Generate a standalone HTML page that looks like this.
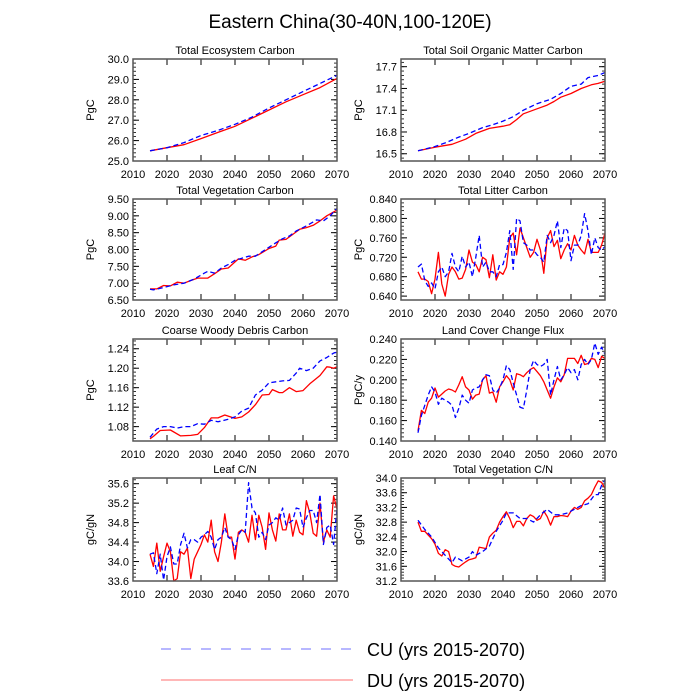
<!DOCTYPE html>
<html><head><meta charset="utf-8"><style>
html,body{margin:0;padding:0;background:#fff;}
svg{display:block;font-family:"Liberation Sans",sans-serif;}
</style></head><body>
<svg id="chart" width="700" height="700" viewBox="0 0 700 700">
<text x="350" y="28" text-anchor="middle" font-size="19">Eastern China(30-40N,100-120E)</text>
<g id="panels"></g>
<g>
<line x1="161" y1="649" x2="353" y2="649" stroke="#6f6fff" stroke-width="1" stroke-dasharray="10,10"/>
<text x="367" y="656" font-size="18">CU (yrs 2015-2070)</text>
<line x1="161" y1="680" x2="353" y2="680" stroke="#ff6f6f" stroke-width="1"/>
<text x="367" y="687" font-size="18">DU (yrs 2015-2070)</text>
</g>
</svg>
<script>
const yearsFull = [];
for (let y = 2015; y <= 2070; y++) yearsFull.push(y);
const xTicks = [2010, 2020, 2030, 2040, 2050, 2060, 2070];

// Panel 1: Total Ecosystem Carbon
const ecoYears = [2015,2020,2025,2030,2035,2040,2045,2050,2055,2060,2065,2070];
const ecoDU = [25.5,25.65,25.8,26.1,26.4,26.7,27.1,27.5,27.9,28.25,28.6,29.05];
const ecoCU = [25.5,25.65,25.9,26.25,26.5,26.8,27.15,27.6,28.0,28.4,28.8,29.2];
const ecoTicks = ["25.0","26.0","27.0","28.0","29.0","30.0"];

// Panel 2: Soil
const soilYearsDU = [2015,2020,2025,2029,2032,2036,2040,2042,2044,2046,2050,2053,2055,2057,2060,2063,2066,2068,2070];
const soilDU = [16.54,16.59,16.63,16.7,16.78,16.85,16.88,16.9,16.97,17.05,17.12,17.17,17.22,17.28,17.33,17.4,17.45,17.47,17.5];
const soilYearsCU = [2015,2020,2023,2027,2030,2034,2037,2040,2043,2046,2050,2054,2057,2060,2063,2065,2068,2070];
const soilCU = [16.54,16.6,16.65,16.73,16.78,16.86,16.9,16.95,17.01,17.1,17.19,17.25,17.33,17.43,17.46,17.55,17.58,17.62];
const soilTicks = ["16.5","16.8","17.1","17.4","17.7"];

// Panel 3: Vegetation Carbon
const vegYearsDU = [2015,2017,2019,2021,2023,2025,2027,2029,2032,2034,2036,2038,2041,2043,2045,2047,2050,2052,2053,2055,2057,2059,2061,2063,2065,2067,2070];
const vegDU = [6.83,6.83,6.93,6.92,7.03,7.0,7.08,7.15,7.15,7.28,7.42,7.45,7.72,7.68,7.78,7.85,8.03,8.1,8.28,8.3,8.45,8.6,8.65,8.72,8.85,9.0,9.17];
const vegYearsCU = [2015,2016,2019,2022,2025,2028,2031,2032,2034,2036,2038,2040,2044,2046,2049,2052,2054,2056,2058,2061,2064,2066,2068,2070];
const vegCU = [6.82,6.8,6.87,6.95,7.0,7.12,7.3,7.35,7.3,7.45,7.55,7.68,7.8,7.8,8.0,8.2,8.32,8.4,8.55,8.7,8.88,8.85,9.0,9.22];
const vegTicks = ["6.50","7.00","7.50","8.00","8.50","9.00","9.50"];

// Panel 4: Litter
const litterDU = [.69,.675,.675,.67,.645,.675,.73,.665,.64,.685,.7,.69,.675,.677,.695,.735,.71,.705,.69,.72,.715,.678,.725,.673,.69,.685,.7,.76,.77,.725,.78,.76,.74,.72,.73,.757,.735,.687,.76,.775,.742,.755,.717,.735,.748,.735,.765,.745,.735,.727,.757,.73,.73,.73,.745,.77];
const litterCU = [.70,.706,.672,.66,.667,.655,.69,.70,.68,.69,.728,.70,.69,.722,.70,.71,.68,.72,.765,.70,.71,.69,.69,.68,.705,.705,.73,.775,.695,.80,.795,.75,.745,.735,.735,.725,.72,.71,.765,.75,.765,.795,.74,.78,.775,.713,.745,.745,.765,.81,.775,.725,.76,.74,.735,.742];
const litterTicks = ["0.640","0.680","0.720","0.760","0.800","0.840"];

// Panel 5: CWD
const cwdYearsDU = [2015,2016,2018,2021,2024,2027,2029,2031,2033,2035,2037,2040,2042,2044,2046,2048,2050,2051,2053,2054,2056,2058,2060,2062,2065,2067,2068,2069,2070];
const cwdDU = [1.055,1.06,1.072,1.073,1.061,1.062,1.064,1.078,1.098,1.098,1.104,1.097,1.1,1.11,1.125,1.145,1.146,1.156,1.15,1.15,1.16,1.152,1.154,1.168,1.185,1.203,1.202,1.2,1.203];
const cwdYearsCU = [2015,2017,2019,2021,2023,2025,2027,2029,2031,2033,2035,2038,2040,2042,2044,2046,2048,2050,2052,2054,2056,2058,2059,2061,2063,2065,2067,2069,2070];
const cwdCU = [1.058,1.075,1.08,1.08,1.077,1.08,1.08,1.086,1.085,1.093,1.09,1.095,1.1,1.112,1.118,1.145,1.155,1.17,1.172,1.174,1.175,1.19,1.2,1.195,1.2,1.215,1.222,1.231,1.233];
const cwdTicks = ["1.08","1.12","1.16","1.20","1.24"];

// Panel 6: Land cover change flux
const lccDU = [.15,.17,.167,.178,.182,.192,.183,.186,.189,.191,.19,.188,.195,.203,.193,.19,.181,.185,.186,.2,.204,.187,.188,.178,.193,.198,.204,.2,.19,.206,.205,.203,.207,.21,.212,.208,.204,.198,.19,.182,.193,.202,.198,.205,.221,.221,.221,.216,.224,.215,.216,.221,.22,.212,.223,.221];
const lccCU = [.148,.165,.175,.185,.193,.188,.176,.182,.18,.178,.175,.163,.172,.185,.18,.177,.19,.192,.193,.2,.205,.204,.19,.187,.192,.2,.214,.21,.197,.185,.173,.172,.19,.21,.219,.215,.213,.215,.22,.185,.2,.213,.2,.205,.212,.207,.21,.2,.215,.22,.215,.22,.236,.225,.232,.225];
const lccTicks = ["0.140","0.160","0.180","0.200","0.220","0.240"];

// Panel 7: Leaf C/N
const leafDU = [34.15,33.9,34.38,33.8,34.1,34.38,34.2,33.6,33.65,34.2,34.15,34.28,33.65,34.05,34.2,34.35,34.55,34.4,34.85,34.2,34.0,34.4,34.98,34.5,34.5,34.05,34.6,34.65,34.6,34.4,34.95,34.45,34.95,34.7,34.25,35.0,34.65,34.42,34.98,34.65,34.65,34.98,34.52,34.85,34.6,34.55,35.25,35.0,34.58,34.52,35.2,34.4,34.65,34.5,35.35,35.08];
const leafCU = [34.15,34.18,33.75,34.15,33.62,34.1,34.3,33.95,33.95,34.35,34.58,34.28,34.45,34.45,34.4,34.5,34.55,34.62,34.5,34.25,34.45,34.5,34.7,34.5,34.45,34.25,34.55,34.65,34.6,35.62,35.1,35.0,34.5,34.6,34.45,34.75,34.8,34.9,34.85,35.1,34.75,34.8,34.85,35.1,35.08,34.7,34.9,35.05,35.05,34.8,35.38,34.35,34.7,34.75,34.35,35.1];
const leafTicks = ["33.6","34.0","34.4","34.8","35.2","35.6"];

// Panel 8: Vegetation C/N
const vcnDU = [32.8,32.55,32.55,32.45,32.35,32.2,31.95,31.88,32.05,32.0,31.65,31.6,31.58,31.65,31.72,31.78,31.8,31.83,32.12,32.1,32.08,32.4,32.5,32.58,32.8,32.95,33.08,32.9,32.65,32.82,32.82,32.7,32.9,33.0,32.95,32.85,32.9,33.1,32.95,32.72,32.95,32.95,32.98,32.97,32.95,33.1,33.2,33.15,33.2,33.38,33.45,33.55,33.75,33.92,33.88,33.72];
const vcnYearsCU = [2015,2017,2019,2021,2023,2025,2026,2028,2030,2031,2032,2034,2036,2038,2040,2041,2043,2045,2047,2049,2051,2053,2055,2057,2059,2061,2063,2065,2067,2068,2069,2070];
const vcnCU = [32.85,32.6,32.4,32.1,31.9,31.7,31.85,31.75,31.85,32.0,31.9,32.0,32.15,32.55,32.85,33.05,33.05,32.9,32.9,32.8,33.0,33.15,33.0,33.0,33.05,33.15,33.25,33.3,33.55,33.55,33.8,33.95];
const vcnTicks = ["31.2","31.6","32.0","32.4","32.8","33.2","33.6","34.0"];

const panels = [
 {name:'total-ecosystem-carbon', title:'Total Ecosystem Carbon', unit:'PgC', L:133, T:59, B:161, ymin:25, ymax:30, ticks:ecoTicks, minor:0.2, du:[ecoYears,ecoDU], cu:[ecoYears,ecoCU]},
 {name:'total-soil-carbon', title:'Total Soil Organic Matter Carbon', unit:'PgC', L:401, T:59, B:161, ymin:16.4, ymax:17.806, ticks:soilTicks, minor:0.06, du:[soilYearsDU,soilDU], cu:[soilYearsCU,soilCU]},
 {name:'total-vegetation-carbon', title:'Total Vegetation Carbon', unit:'PgC', L:133, T:199, B:300, ymin:6.5, ymax:9.5, ticks:vegTicks, minor:0.1, du:[vegYearsDU,vegDU], cu:[vegYearsCU,vegCU]},
 {name:'total-litter-carbon', title:'Total Litter Carbon', unit:'PgC', L:401, T:199, B:300, ymin:0.632, ymax:0.84, ticks:litterTicks, minor:0.008, du:[yearsFull,litterDU], cu:[yearsFull,litterCU]},
 {name:'coarse-woody-debris-carbon', title:'Coarse Woody Debris Carbon', unit:'PgC', L:133, T:339, B:441, ymin:1.0505, ymax:1.26, ticks:cwdTicks, minor:0.008, du:[cwdYearsDU,cwdDU], cu:[cwdYearsCU,cwdCU]},
 {name:'land-cover-change-flux', title:'Land Cover Change Flux', unit:'PgC/y', L:401, T:339, B:441, ymin:0.14, ymax:0.24, ticks:lccTicks, minor:0.004, du:[yearsFull,lccDU], cu:[yearsFull,lccCU]},
 {name:'leaf-cn', title:'Leaf C/N', unit:'gC/gN', L:133, T:478, B:581, ymin:33.6, ymax:35.717, ticks:leafTicks, minor:0.08, du:[yearsFull,leafDU], cu:[yearsFull,leafCU]},
 {name:'total-vegetation-cn', title:'Total Vegetation C/N', unit:'gC/gN', L:401, T:478, B:581, ymin:31.2, ymax:34.0, ticks:vcnTicks, minor:0.08, du:[yearsFull,vcnDU], cu:[vcnYearsCU,vcnCU]}
];

const NS = 'http://www.w3.org/2000/svg';
const root = document.getElementById('panels');
function mk(tag, attrs, parent) {
  const e = document.createElementNS(NS, tag);
  for (const k in attrs) e.setAttribute(k, attrs[k]);
  parent.appendChild(e);
  return e;
}
panels.forEach(p => {
  const W = 204, R = p.L + W;
  const g = mk('g', {}, root);
  
  
  const xs = v => p.L + (v - 2010) / 60 * W;
  const ys = v => p.B - (v - p.ymin) / (p.ymax - p.ymin) * (p.B - p.T);
  const t = mk('text', {x: p.L + W/2, y: p.T - 5, 'text-anchor':'middle', 'font-size':'11'}, g);
  t.textContent = p.title;
  
  
  const yl = mk('text', {x:0, y:0, 'text-anchor':'middle', 'font-size':'11', transform:`translate(${p.L-39},${(p.T+p.B)/2}) rotate(-90)`}, g);
  yl.textContent = p.unit;
  
  
  // minor y ticks
  const start = Math.ceil(p.ymin / p.minor - 1e-6);
  for (let i = start; i * p.minor <= p.ymax + 1e-9; i++) {
    const y = ys(i * p.minor);
    mk('line', {x1:p.L, x2:p.L+3, y1:y, y2:y, stroke:'#000', 'stroke-width':'0.8'}, g);
    mk('line', {x1:R, x2:R-3, y1:y, y2:y, stroke:'#000', 'stroke-width':'0.8'}, g);
  }
  p.ticks.forEach(lbl => {
    const y = ys(parseFloat(lbl));
    mk('line', {x1:p.L, x2:p.L+6, y1:y, y2:y, stroke:'#000', 'stroke-width':'1'}, g);
    mk('line', {x1:R, x2:R-6, y1:y, y2:y, stroke:'#000', 'stroke-width':'1'}, g);
    const tx = mk('text', {x:p.L-4, y:y+4, 'text-anchor':'end', 'font-size':'11'}, g);
    tx.textContent = lbl;
    
    
  });
  xTicks.forEach(v => {
    const x = xs(v);
    mk('line', {x1:x, x2:x, y1:p.B, y2:p.B-6, stroke:'#000', 'stroke-width':'1'}, g);
    mk('line', {x1:x, x2:x, y1:p.T, y2:p.T+6, stroke:'#000', 'stroke-width':'1'}, g);
    const tx = mk('text', {x:x, y:p.B+17, 'text-anchor':'middle', 'font-size':'11'}, g);
    tx.textContent = v;
    
    
  });
  const line = (yrs, vals, color, dash, nm) => {
    const pts = yrs.map((yr, i) => xs(yr).toFixed(1) + ',' + ys(vals[i]).toFixed(1)).join(' ');
    const pl = mk('polyline', {points:pts, fill:'none', stroke:color, 'stroke-width':'1.3', 'stroke-linejoin':'round'}, g);
    if (dash) pl.setAttribute('stroke-dasharray', '5,3');
    
    
  };
  line(p.du[0], p.du[1], '#ff0000', false, p.name + '-du-line');
  line(p.cu[0], p.cu[1], '#0000ff', true, p.name + '-cu-line');
  const fr = mk('rect', {x:p.L, y:p.T, width:W, height:p.B-p.T, fill:'none', stroke:'#555', 'stroke-width':'1.5'}, g);
  
  
});
</script>
</body></html>
